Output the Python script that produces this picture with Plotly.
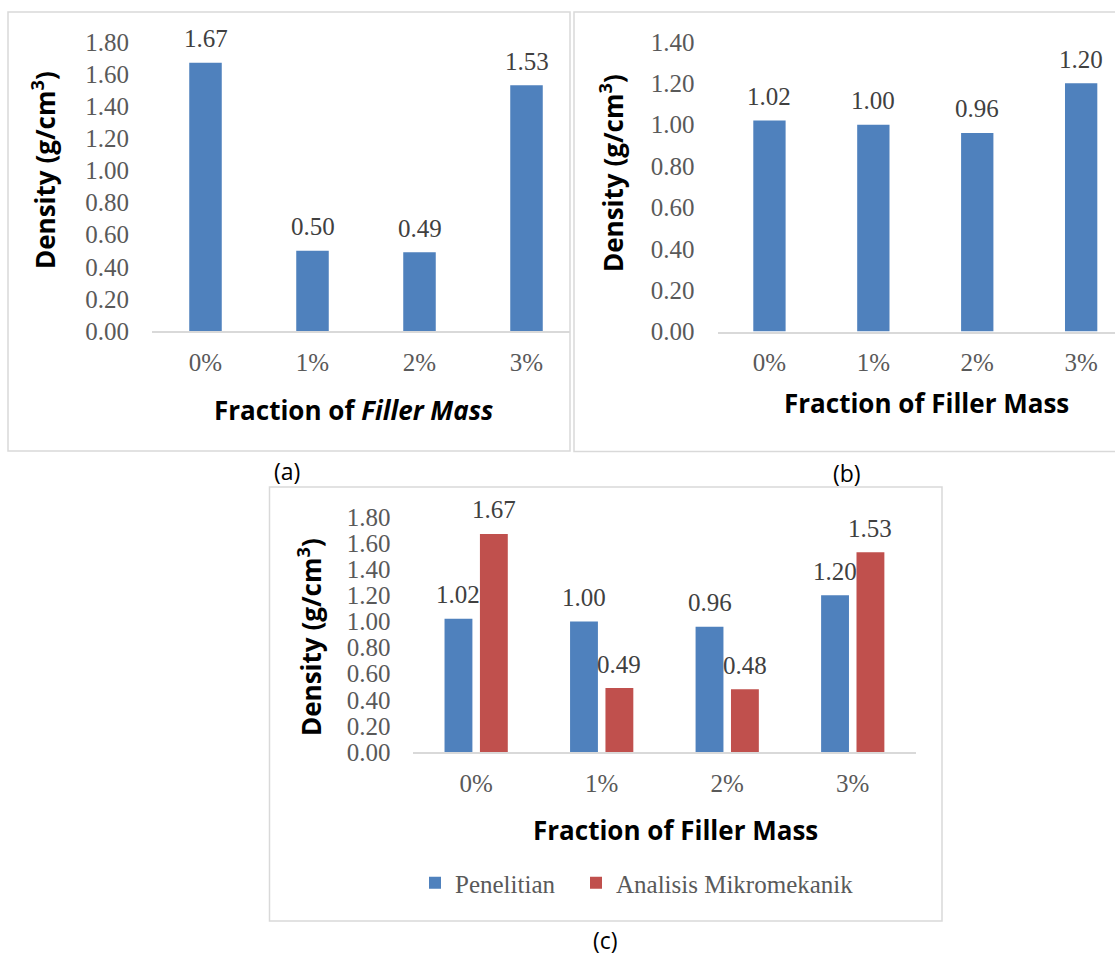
import plotly.graph_objects as go

# ---------------- data ----------------
categories = ["0%", "1%", "2%", "3%"]
density_a = [1.67, 0.50, 0.49, 1.53]            # panel (a)
density_b = [1.02, 1.00, 0.96, 1.20]            # panel (b)
penelitian_c = [1.02, 1.00, 0.96, 1.20]         # panel (c) series 1
mikromekanik_c = [1.67, 0.49, 0.48, 1.53]       # panel (c) series 2
series_names = ["Penelitian", "Analisis Mikromekanik"]
panel_labels = ["(a)", "(b)", "(c)"]

# ---------------- style ----------------
W, H = 1115, 956
BLUE = "#4F81BD"
RED = "#C0504D"
GRID = "#D9D9D9"
TICK_COLOR = "#595959"
LABEL_COLOR = "#404040"
SERIF = "Liberation Serif"
SANS = "Open Sans"
TICK_SIZE = 25
TITLE_SIZE = 26


def px_x(x):
    return x / W


def px_y(y):
    return 1 - y / H


fig = go.Figure()

fig.add_bar(x=categories, y=density_a, xaxis="x", yaxis="y",
            marker=dict(color=BLUE, line=dict(width=0)), width=0.304,
            showlegend=False, hoverinfo="skip")
fig.add_bar(x=categories, y=density_b, xaxis="x2", yaxis="y2",
            marker=dict(color=BLUE, line=dict(width=0)), width=0.311,
            showlegend=False, hoverinfo="skip")
fig.add_bar(x=categories, y=penelitian_c, xaxis="x3", yaxis="y3",
            marker=dict(color=BLUE, line=dict(width=0)), width=0.222, offset=-0.252,
            name=series_names[0], legend="legend", hoverinfo="skip")
fig.add_bar(x=categories, y=mikromekanik_c, xaxis="x3", yaxis="y3",
            marker=dict(color=RED, line=dict(width=0)), width=0.222, offset=0.030,
            name=series_names[1], legend="legend2", hoverinfo="skip")


def xaxis(domain, rng, anchor):
    return dict(domain=domain, range=rng, type="category", anchor=anchor,
                showline=True, linecolor=GRID, linewidth=1.5, showgrid=False,
                zeroline=False, ticks="", ticklabelstandoff=8, automargin=False,
                tickfont=dict(family=SERIF, size=TICK_SIZE, color=TICK_COLOR),
                fixedrange=True)


def yaxis(domain, rng, anchor):
    return dict(domain=domain, range=rng, anchor=anchor, showline=False,
                showgrid=False, zeroline=False, ticks="", dtick=0.2, tick0=0,
                tickformat=".2f", ticklabelstandoff=22, automargin=False,
                tickfont=dict(family=SERIF, size=TICK_SIZE, color=TICK_COLOR),
                fixedrange=True)


def legend_at(cx_px):
    return dict(orientation="h", x=px_x(cx_px - 20), xanchor="left",
                y=px_y(883), yanchor="middle",
                font=dict(family=SERIF, size=TICK_SIZE, color=TICK_COLOR),
                bgcolor="rgba(0,0,0,0)", borderwidth=0,
                itemclick=False, itemdoubleclick=False)


fig.update_layout(
    width=W, height=H,
    margin=dict(l=0, r=0, t=0, b=0, pad=0, autoexpand=False),
    paper_bgcolor="white", plot_bgcolor="white",
    barmode="group",
    xaxis=xaxis([px_x(152), px_x(570)], [-0.5, -0.5 + 418 / 107], "y"),
    yaxis=yaxis([px_y(331), px_y(42)], [0, 1.8], "x"),
    xaxis2=xaxis([px_x(717.5), 1.0], [-0.5, -0.5 + 397.5 / 103.9], "y2"),
    yaxis2=yaxis([px_y(331.5), px_y(42)], [0, 1.4], "x2"),
    xaxis3=xaxis([px_x(413.4), px_x(915.5)], [-0.5, 3.5], "y3"),
    yaxis3=yaxis([px_y(752), px_y(517)], [0, 1.8], "x3"),
    legend=legend_at(435),
    legend2=legend_at(596),
)

annotations = []


# data labels
def add_labels(values, xref, yref, shift=0.0):
    for i, v in enumerate(values):
        annotations.append(dict(
            x=i + shift, y=v, xref=xref, yref=yref, text=f"{v:.2f}",
            showarrow=False, yanchor="middle", xanchor="center", yshift=24,
            font=dict(family=SERIF, size=TICK_SIZE, color=LABEL_COLOR)))


add_labels(density_a, "x", "y")
add_labels(density_b, "x2", "y2")
add_labels(penelitian_c, "x3", "y3", shift=-0.252 + 0.111)
add_labels(mikromekanik_c, "x3", "y3", shift=0.030 + 0.111)

# axis titles
ytitle = "<b>Density (g/cm<sup>3</sup>)</b>"
for (cx, cy) in [(44, 170), (612, 173), (310, 637)]:
    annotations.append(dict(x=px_x(cx), y=px_y(cy), xref="paper", yref="paper",
                            text=ytitle, textangle=-90, showarrow=False,
                            xanchor="center", yanchor="middle",
                            font=dict(family=SANS, size=TITLE_SIZE, color="black")))

xtitles = [("<b>Fraction of <i>Filler Mass</i></b>", 353, 410),
           ("<b>Fraction of Filler Mass</b>", 926, 403),
           ("<b>Fraction of Filler Mass</b>", 675.5, 830)]
for text, cx, cy in xtitles:
    annotations.append(dict(x=px_x(cx), y=px_y(cy), xref="paper", yref="paper",
                            text=text, showarrow=False,
                            xanchor="center", yanchor="middle",
                            font=dict(family=SANS, size=TITLE_SIZE, color="black")))

# panel labels
for text, cx, cy in zip(panel_labels, [287, 847, 605.7], [471, 473, 940]):
    annotations.append(dict(x=px_x(cx), y=px_y(cy), xref="paper", yref="paper",
                            text=text, showarrow=False,
                            xanchor="center", yanchor="middle",
                            font=dict(family=SANS, size=23, color="black")))

fig.update_layout(annotations=annotations)

# chart-area borders
boxes = [(8, 12, 570, 451), (574, 12, 1130, 451.5), (269.5, 487, 942, 921)]
for x0, y0, x1, y1 in boxes:
    fig.add_shape(type="rect", xref="paper", yref="paper",
                  x0=px_x(x0), x1=px_x(x1), y0=px_y(y1), y1=px_y(y0),
                  line=dict(color=GRID, width=1.5), fillcolor="rgba(0,0,0,0)",
                  layer="below")

fig.write_html("out.html", config={"displayModeBar": False},
               post_script="document.body.style.margin='0';")
